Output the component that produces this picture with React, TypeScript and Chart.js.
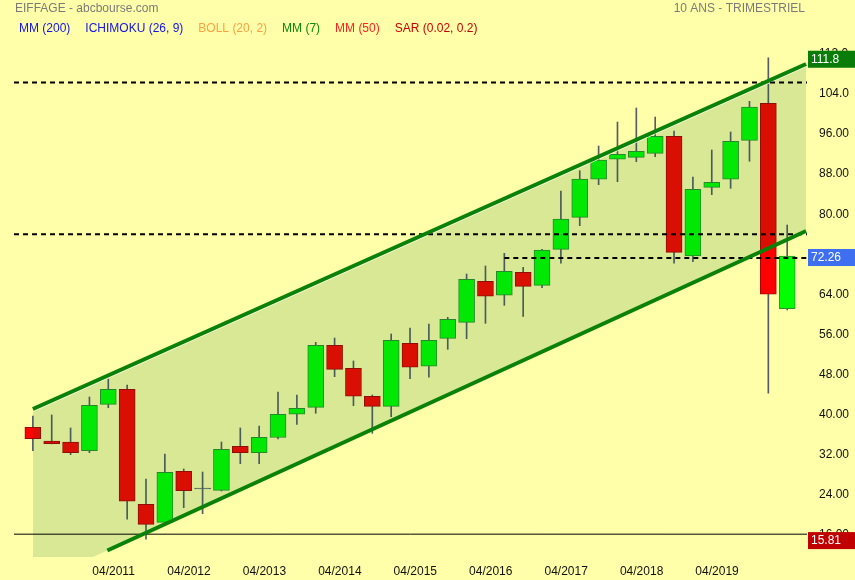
import React, { useEffect, useRef } from 'react';
import { Chart, registerables } from 'chart.js';

Chart.register(...registerables);

// ---- Data (quarterly candles, index 0..40) ----
const OPEN = [38.11, 35.37, 35.17, 33.44, 42.69, 45.68, 22.75, 19.16, 29.33, 25.80, 25.54, 34.32, 33.04, 36.07, 40.70, 42.09, 54.46, 49.87, 44.29, 42.29, 54.86, 50.27, 55.85, 59.04, 67.22, 64.43, 69.01, 66.42, 73.60, 79.98, 87.56, 91.55, 91.94, 92.74, 96.13, 72.26, 85.96, 87.56, 95.33, 102.71, 61.76];
const HIGH = [40.36, 40.56, 37.97, 44.15, 47.74, 46.54, 27.80, 32.78, 29.79, 29.19, 35.17, 37.97, 38.36, 45.14, 44.55, 55.05, 55.91, 51.33, 44.55, 56.71, 57.91, 58.70, 60.04, 68.67, 70.27, 72.80, 70.01, 73.60, 85.22, 89.27, 94.20, 98.98, 101.77, 99.98, 97.19, 88.02, 93.40, 96.99, 103.11, 111.8, 78.44];
const LOW = [33.44, 34.80, 32.64, 33.04, 42.01, 19.76, 15.81, 19.00, 22.07, 20.88, 25.40, 30.85, 30.85, 35.77, 38.70, 40.90, 48.20, 42.41, 36.91, 40.22, 47.80, 48.08, 53.66, 55.77, 58.84, 62.43, 60.20, 65.94, 70.81, 78.31, 86.48, 87.08, 91.07, 92.06, 70.81, 71.13, 84.49, 85.76, 91.15, 44.89, 61.50];
const CLOSE = [35.83, 34.84, 33.04, 42.49, 45.68, 23.35, 18.76, 29.13, 25.46, 25.80, 33.72, 33.04, 36.11, 40.70, 41.89, 54.46, 49.67, 44.29, 42.29, 55.45, 50.07, 55.45, 59.64, 67.62, 64.23, 69.21, 66.22, 73.46, 79.64, 87.62, 91.41, 92.54, 93.14, 96.13, 73.00, 85.56, 86.96, 95.13, 101.97, 64.63, 72.26];

const X_LABELS = ['04/2011', '04/2012', '04/2013', '04/2014', '04/2015', '04/2016', '04/2017', '04/2018', '04/2019'];
const X_LABEL_AT = [4.28, 8.28, 12.28, 16.28, 20.28, 24.28, 28.28, 32.28, 36.28];
const Y_TICKS = [16, 24, 32, 40, 48, 56, 64, 72, 80, 88, 96, 104, 112];

// channel lines: [index, value]
const CHANNEL_UPPER = [[0, 41.75], [41, 110.55]];
const CHANNEL_LOWER = [[3.95, 13.54], [41, 77.25]];
const CHANNEL_LOWER_FILL_START = 6.75;

const DASHED_FULL = [106.86, 76.59];
const DASHED_PARTIAL_FROM = 25;
const DASHED_PARTIAL_VALUE = 71.86;
const MIN_LINE = 16.79;

const MAX_VALUE = 111.8;
const LAST_VALUE = 72.26;
const MIN_VALUE = 15.81;

const X_MIN = -1;
const X_MAX = 41.05;
const Y_MIN = 12.24;
const Y_MAX = 114.34;

const TITLE = 'EIFFAGE - abcbourse.com';
const PERIOD = '10 ANS - TRIMESTRIEL';
const LEGEND_TEXT = ['MM (200)', 'ICHIMOKU (26, 9)', 'BOLL (20, 2)', 'MM (7)', 'MM (50)', 'SAR (0.02, 0.2)'];
const LEGEND_COLORS = ['#1414e6', '#1414e6', '#ffa040', '#0a8a0a', '#ff2020', '#c80000'];

const BG = '#ffffaa';
const UP = '#00ff00';
const DOWN = '#ff0000';
const UP_BORDER = '#2e8f2e';
const DOWN_BORDER = '#a80000';
const WICK = '#555b68';
const CHANNEL = '#0a820a';
const FILL = 'rgba(0,104,26,0.15)';
const FONT = '"Liberation Sans", Arial, sans-serif';

const overlayPlugin = {
  id: 'overlay',
  beforeDraw(chart: any) {
    const { ctx, width, height } = chart;
    ctx.save();
    ctx.fillStyle = BG;
    ctx.fillRect(0, 0, width, height);
    ctx.restore();
  },
  afterDraw(chart: any) {
    const ctx = chart.ctx;
    const ys = chart.scales.y;
    ctx.save();
    ctx.font = '12px ' + FONT;
    ctx.textBaseline = 'middle';
    ctx.textAlign = 'left';
    ctx.fillStyle = '#7a7a7a';
    ctx.fillText(TITLE, 15, 9);
    ctx.textAlign = 'right';
    ctx.fillText(PERIOD, 805, 9);
    ctx.textAlign = 'left';
    let x = 19;
    LEGEND_TEXT.forEach((t, i) => {
      ctx.fillStyle = LEGEND_COLORS[i];
      ctx.fillText(t, x, 29);
      x += ctx.measureText(t).width + 15;
    });
    const boxes: [number, string][] = [
      [MAX_VALUE, '#0a7c0a'],
      [LAST_VALUE, '#3d6ff0'],
      [MIN_VALUE, '#c00000'],
    ];
    boxes.forEach(([v, c]) => {
      const yy = ys.getPixelForValue(v) + 1.5;
      ctx.fillStyle = c;
      ctx.fillRect(808, yy - 8.5, 47, 17);
      ctx.fillStyle = '#ffffff';
      ctx.fillText(v >= 100 ? v.toFixed(1) : v.toFixed(2), 811, yy);
    });
    ctx.restore();
  },
};

export default function App() {
  const ref = useRef<HTMLCanvasElement | null>(null);

  useEffect(() => {
    document.body.style.margin = '0';
    document.body.style.background = BG;
    const idx = OPEN.map((_, i) => i);
    const bodyColor = idx.map((i) => (CLOSE[i] > OPEN[i] ? UP : CLOSE[i] < OPEN[i] ? DOWN : WICK));
    const bodyBorder = idx.map((i) => (CLOSE[i] > OPEN[i] ? UP_BORDER : CLOSE[i] < OPEN[i] ? DOWN_BORDER : WICK));
    const line = (pts: number[][], extra: any) => ({
      type: 'line',
      data: pts.map(([x, y]) => ({ x, y })),
      pointRadius: 0,
      tension: 0,
      fill: false,
      ...extra,
    });
    const hline = (from: number, v: number, extra: any) =>
      line([[from, v], [X_MAX, v]], { borderColor: '#000', borderWidth: 2, borderDash: [5, 4], order: 0, ...extra });

    const chart = new Chart(ref.current as HTMLCanvasElement, {
      type: 'bar',
      data: {
        datasets: [
          line(CHANNEL_UPPER, { borderColor: CHANNEL, borderWidth: 4, borderCapStyle: 'butt', order: 0 }),
          line(CHANNEL_LOWER, { borderColor: CHANNEL, borderWidth: 4, borderCapStyle: 'butt', order: 0 }),
          line(CHANNEL_UPPER.map(([x, y]) => [x, y - 0.52]), { borderColor: 'rgba(252,253,225,0.9)', borderWidth: 1, order: 0.5 }),
          hline(X_MIN, DASHED_FULL[0], {}),
          hline(X_MIN, DASHED_FULL[1], {}),
          hline(DASHED_PARTIAL_FROM, DASHED_PARTIAL_VALUE, {}),
          line([[X_MIN, MIN_LINE], [X_MAX, MIN_LINE]], { borderColor: '#000', borderWidth: 1, order: 0 }),
          line(CHANNEL_UPPER, { borderColor: 'transparent', borderWidth: 0, order: 1 }),
          line([[CHANNEL_UPPER[0][0], CHANNEL_LOWER_FILL_START], CHANNEL_LOWER[1]], {
            borderColor: 'transparent',
            borderWidth: 0,
            fill: '-1',
            backgroundColor: FILL,
            order: 1,
          }),
          {
            type: 'bar',
            data: idx.map((i) => ({ x: i, y: [OPEN[i], CLOSE[i]] })),
            backgroundColor: bodyColor,
            borderColor: bodyBorder,
            borderWidth: 1,
            borderSkipped: false,
            barThickness: 16,
            minBarLength: 1,
            grouped: false,
            order: 2,
          },
          {
            type: 'bar',
            data: idx.map((i) => ({ x: i, y: [LOW[i], HIGH[i]] })),
            backgroundColor: WICK,
            borderWidth: 0,
            barThickness: 1,
            grouped: false,
            order: 3,
          },
        ] as any,
      },
      options: {
        animation: false,
        responsive: false,
        events: [],
        layout: { padding: { left: 14, top: 45, right: 0, bottom: 0 } },
        plugins: { legend: { display: false }, tooltip: { enabled: false }, title: { display: false } },
        scales: {
          x: {
            type: 'linear',
            min: X_MIN,
            max: X_MAX,
            offset: false,
            bounds: 'data',
            grid: { display: false },
            border: { display: false },
            afterBuildTicks: (s: any) => {
              s.ticks = X_LABEL_AT.map((v) => ({ value: v }));
            },
            afterFit: (s: any) => {
              s.height = 23;
            },
            ticks: {
              autoSkip: false,
              maxRotation: 0,
              padding: -1,
              color: '#111',
              font: { family: FONT, size: 12 },
              callback: (_v: any, i: number) => X_LABELS[i],
            },
          },
          y: {
            type: 'linear',
            position: 'right',
            min: Y_MIN,
            max: Y_MAX,
            bounds: 'data',
            grid: { display: false },
            border: { display: false },
            afterBuildTicks: (s: any) => {
              s.ticks = Y_TICKS.map((v) => ({ value: v }));
            },
            afterFit: (s: any) => {
              s.width = 48;
            },
            ticks: {
              padding: 4,
              labelOffset: -3,
              color: '#111',
              font: { family: FONT, size: 12 },
              callback: (v: any) => (v >= 100 ? Number(v).toFixed(1) : Number(v).toFixed(2)),
            },
          },
        },
      } as any,
      plugins: [overlayPlugin],
    });
    return () => chart.destroy();
  }, []);

  return (
    <div style={{ position: 'fixed', left: 0, top: 0, width: 855, height: 580, background: BG }}>
      <canvas ref={ref} width={855} height={580} style={{ width: 855, height: 580, display: 'block' }} />
    </div>
  );
}
